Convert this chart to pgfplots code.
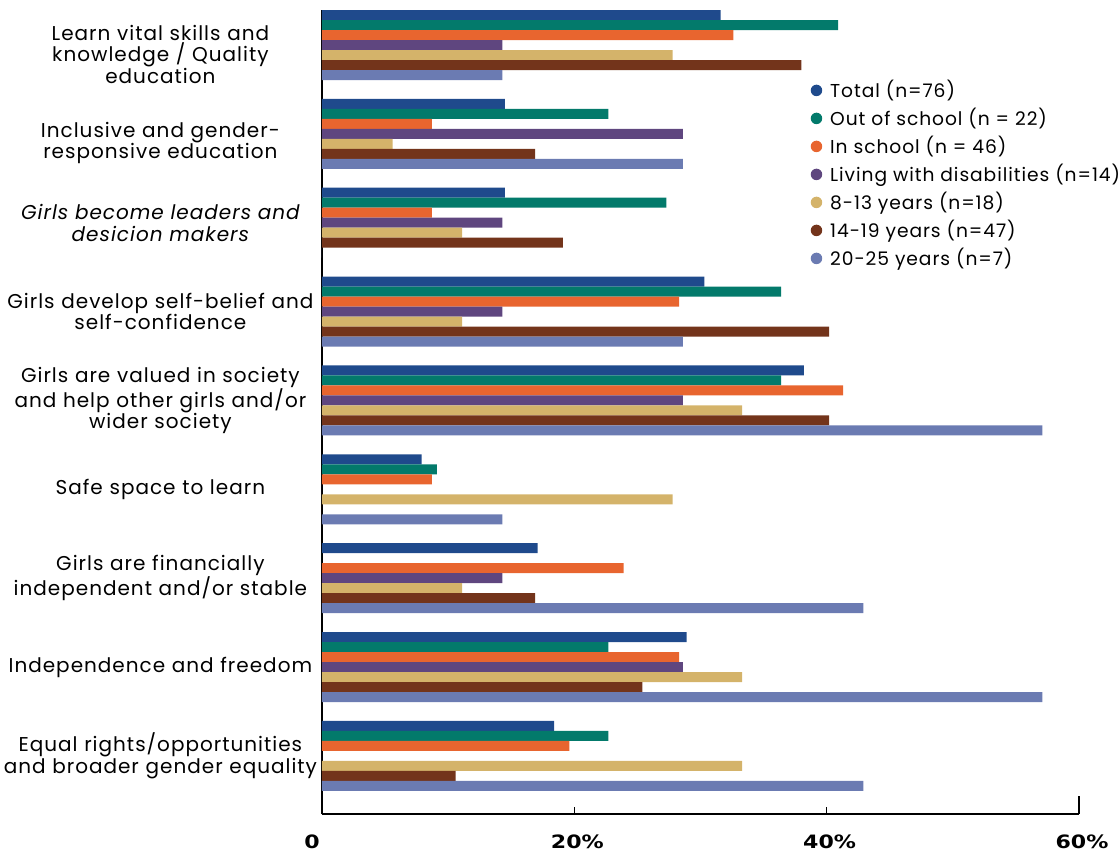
\documentclass[border=0pt]{standalone}
\usepackage{pgfplots}
\pgfplotsset{compat=1.18}
\usepackage{graphicx}
\usepackage{fontspec}
\setmainfont[LetterSpace=5]{Poppins}
\newfontfamily\tickfont{DejaVu Sans}

\definecolor{cTotal}{HTML}{1F4A8C}
\definecolor{cOut}{HTML}{037A6B}
\definecolor{cIn}{HTML}{E8652F}
\definecolor{cDis}{HTML}{5F467F}
\definecolor{cYoung}{HTML}{D4B36A}
\definecolor{cMid}{HTML}{73341B}
\definecolor{cOld}{HTML}{6B7BB2}

\newcommand{\pct}[1]{\scalebox{1.2}[1]{#1}}

% category positions: 8 = top group, 0 = bottom group
\pgfplotstableread{
y  total out   in    dis   young mid   old
8  31.6  40.9  32.6  14.3  27.8  38.0  14.3
7  14.5  22.7  8.7   28.6  5.6   16.9  28.6
6  14.5  27.3  8.7   14.3  11.1  19.1  0
5  30.3  36.4  28.3  14.3  11.1  40.2  28.6
4  38.2  36.4  41.3  28.6  33.3  40.2  57.1
3  7.9   9.1   8.7   0     27.8  0     14.3
2  17.1  0     23.9  14.3  11.1  16.9  42.9
1  28.9  22.7  28.3  28.6  33.3  25.4  57.1
0  18.4  22.7  19.6  0     33.3  10.6  42.9
}\datatable

\begin{document}
\begin{tikzpicture}
\begin{axis}[
  name=ax,
  scale only axis,
  width=567.75pt, height=603pt,
  xbar, bar width=7.5pt,
  xmin=0, xmax=60,
  ymin=-0.653, ymax=8.394,
  axis x line*=bottom, axis y line*=left,
  axis line style={line width=1.6pt, black},
  xtick={0,20,40,60},
  xticklabels={\pct{0}\hspace*{19.5pt},\pct{20\%},\pct{40\%},\pct{60\%}},
  xticklabel style={font=\tickfont\bfseries\fontsize{13.8pt}{15pt}\selectfont,
    yshift=-12pt, xshift=2.25pt},
  tick align=inside,
  major tick length=5.5pt,
  x tick style={line width=1.2pt, black},
  extra x ticks={60},
  extra x tick labels={},
  extra x tick style={major tick length=13.5pt},
  ytick={0,...,8},
  y tick style={draw=none},
  yticklabels={
    {Equal rights/opportunities\\and broader gender equality},
    {Independence and freedom},
    {Girls are financially\\independent and/or stable},
    {Safe space to learn},
    {Girls are valued in society\\and help other girls and/or\\wider society},
    {Girls develop self-belief and\\self-confidence},
    {\itshape Girls become leaders and\\\itshape desicion makers},
    {Inclusive and gender-\\responsive education},
    {Learn vital skills and\\knowledge / Quality\\education}},
  yticklabel style={align=center, text width=240pt, inner sep=0pt,
    font=\fontsize{15pt}{16.1pt}\selectfont, xshift=-1pt,
    yshift={-7pt*(\ticknum>6)}},
  legend cell align=left,
  legend style={draw=none, at={(0.64,0.911)}, anchor=north west,
    font=\fontsize{14pt}{15pt}\selectfont,
    nodes={inner sep=0pt, text height=9.5pt, text depth=3pt},
    row sep=8.5pt, column sep=0pt},
  legend image code/.code={\fill[#1] (4.3pt,1.8pt) circle (4.3pt);},
]
\addplot[fill=cTotal, draw=none, bar shift=22.5pt] table[x=total, y=y] {\datatable};
\addplot[fill=cOut,   draw=none, bar shift=15pt]   table[x=out,   y=y] {\datatable};
\addplot[fill=cIn,    draw=none, bar shift=7.5pt]  table[x=in,    y=y] {\datatable};
\addplot[fill=cDis,   draw=none, bar shift=0pt]    table[x=dis,   y=y] {\datatable};
\addplot[fill=cYoung, draw=none, bar shift=-7.5pt] table[x=young, y=y] {\datatable};
\addplot[fill=cMid,   draw=none, bar shift=-15pt]  table[x=mid,   y=y] {\datatable};
\addplot[fill=cOld,   draw=none, bar shift=-22.5pt] table[x=old,  y=y] {\datatable};
\legend{\hspace{6pt}Total (n=76),
        \hspace{6pt}Out of school (n = 22),
        \hspace{6pt}In school (n = 46),
        \hspace{6pt}Living with disabilities (n=14),
        \hspace{6pt}8-13 years (n=18),
        \hspace{6pt}14-19 years (n=47),
        \hspace{6pt}20-25 years (n=7)}
\end{axis}
\pgfresetboundingbox
\path ([xshift=-241.5pt, yshift=-29.25pt]ax.south west)
  rectangle ([xshift=30pt, yshift=7.5pt]ax.north east);
\end{tikzpicture}
\end{document}
